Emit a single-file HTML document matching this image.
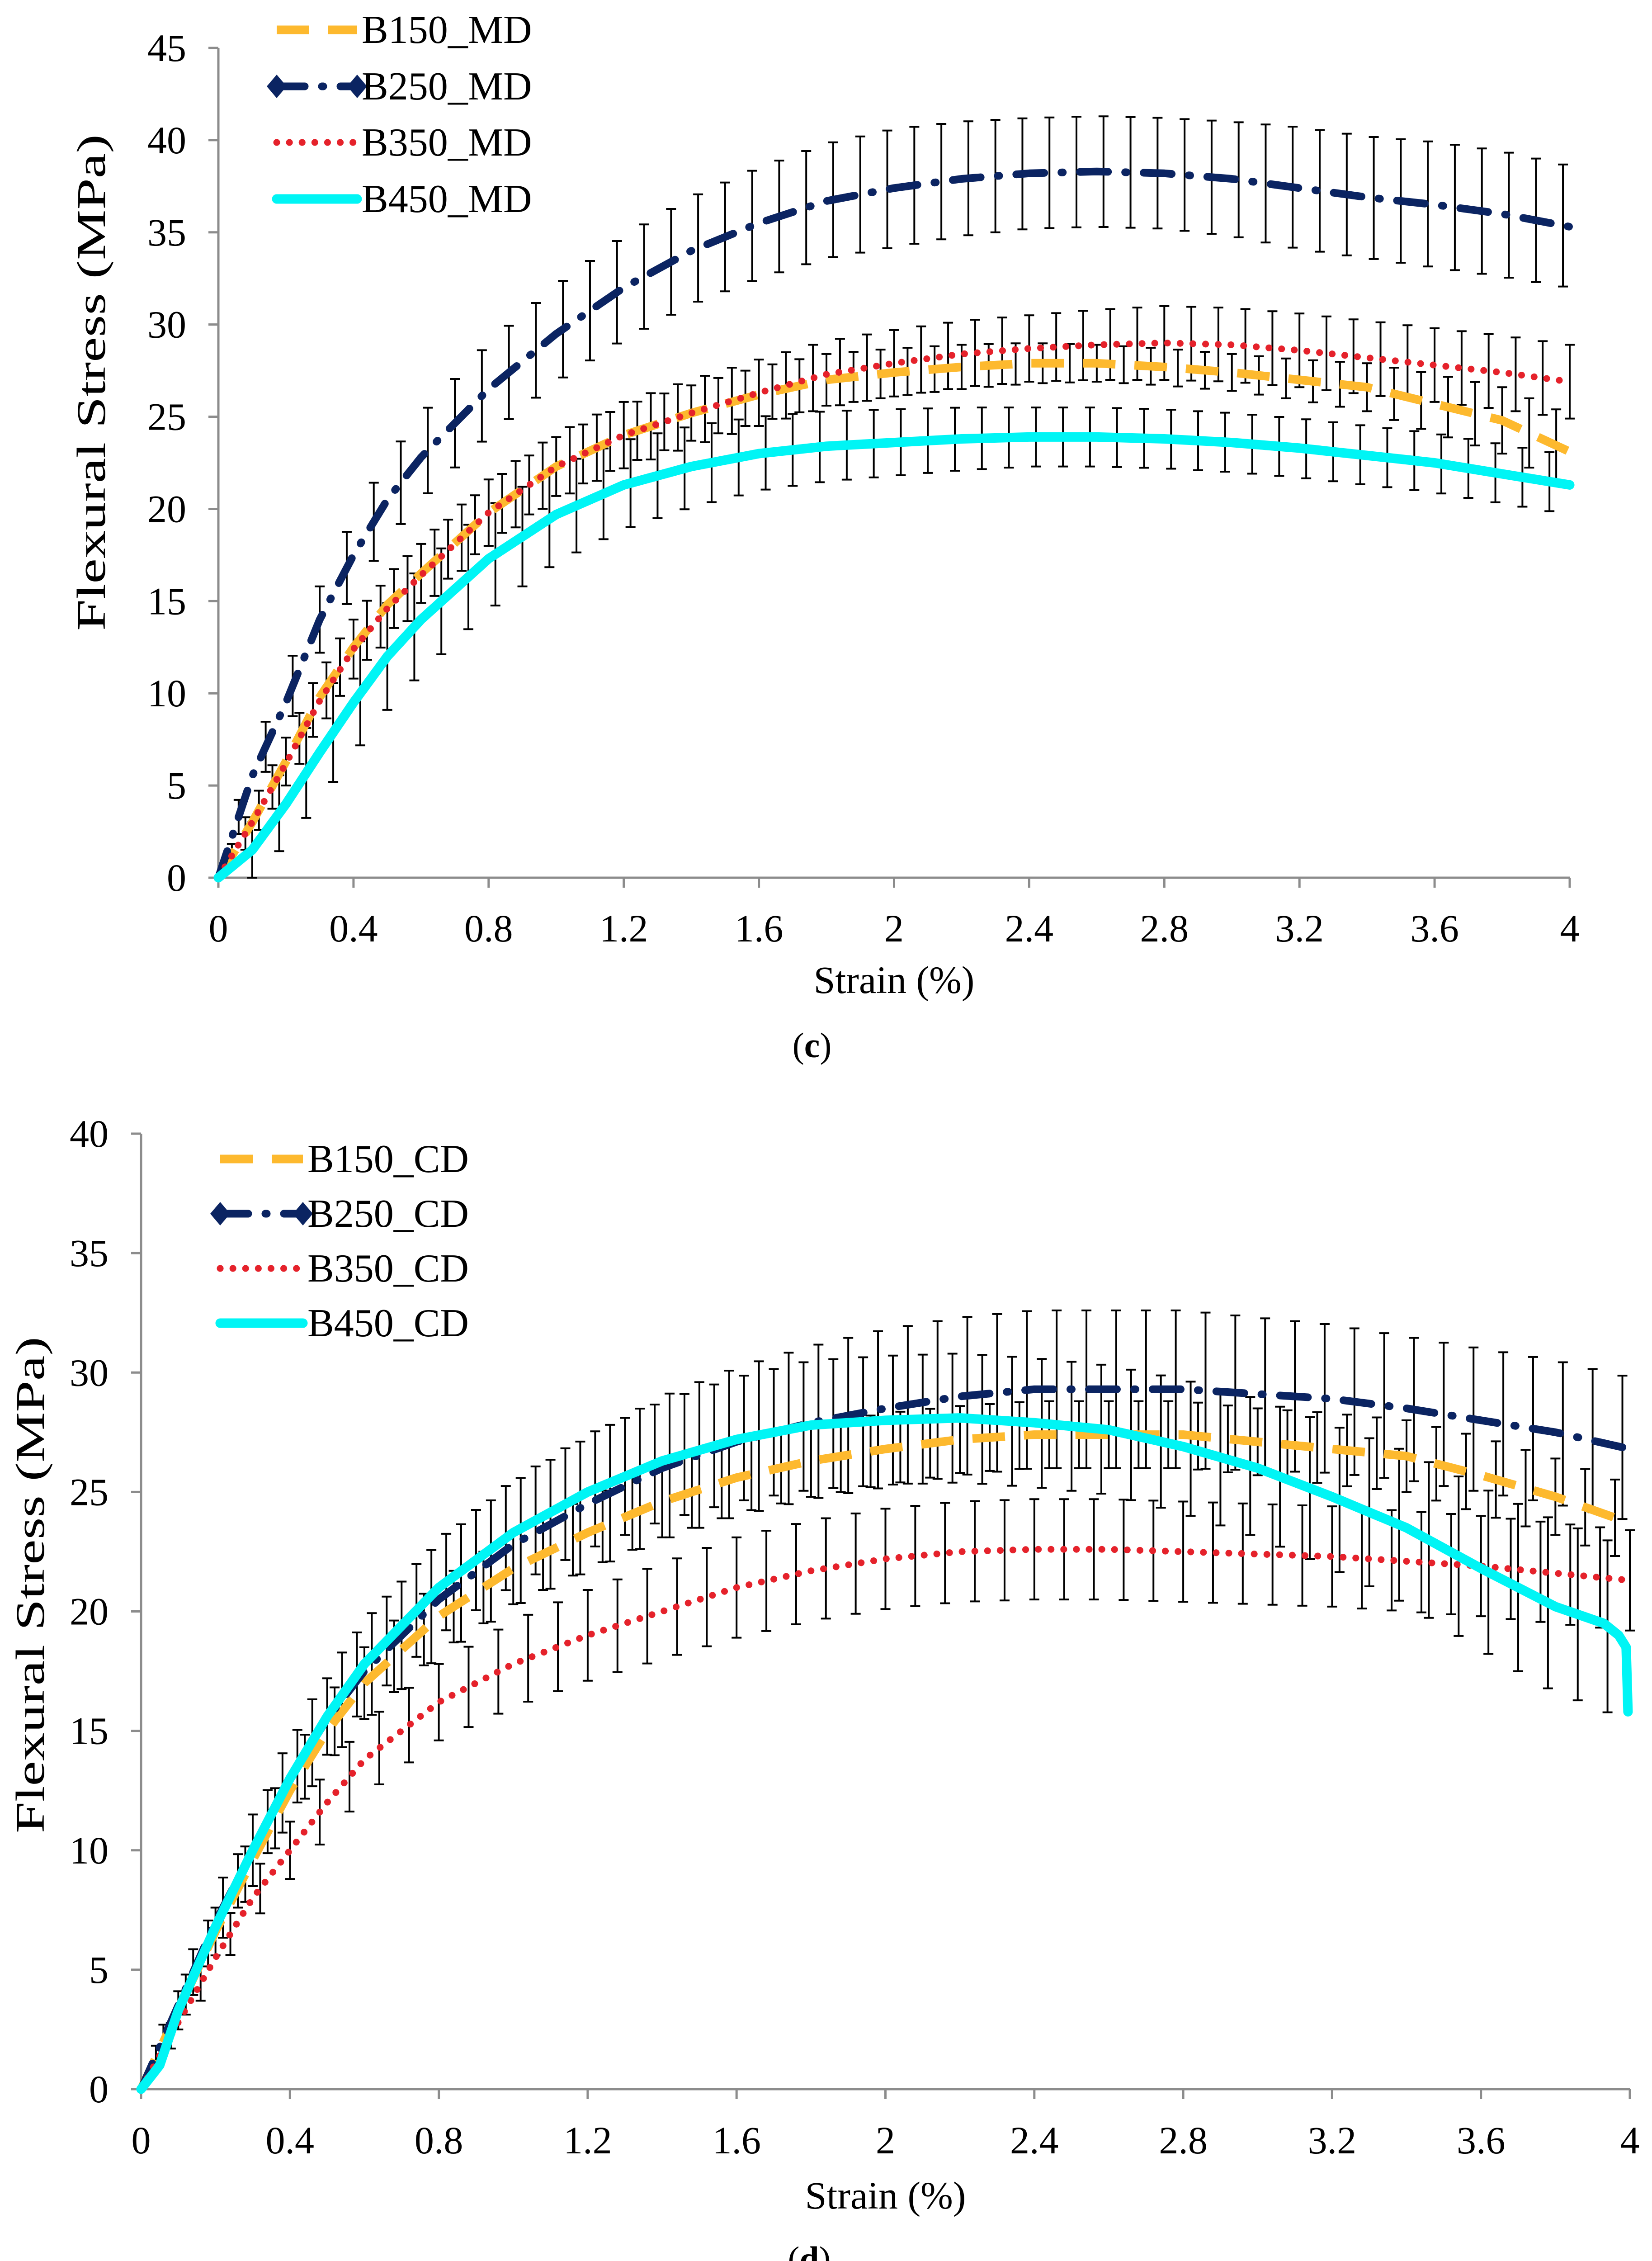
<!DOCTYPE html>
<html><head><meta charset="utf-8"><style>
html,body{margin:0;padding:0;background:#fff;overflow:hidden;width:3654px;height:5061px;}
svg{display:block;position:absolute;left:0;top:0;}
text{font-family:"Liberation Serif",serif;fill:#000;}
</style></head><body>
<svg id="fig" width="3654" height="5061" viewBox="0 0 3654 5061" xmlns="http://www.w3.org/2000/svg">
<rect width="3654" height="5061" fill="#fff"/>
</svg>
<script>
// ---------- Data: chart (c) MD ----------
const strainC = [0,0.1,0.2,0.3,0.4,0.5,0.6,0.8,1.0,1.2,1.4,1.6,1.8,2.0,2.2,2.4,2.6,2.8,3.0,3.2,3.4,3.6,3.8,4.0];
const b150MD = [0,3,6.3,9.8,12.5,14.8,16.5,19.8,22.3,24,25.2,26.2,27,27.4,27.7,27.9,27.9,27.7,27.4,27.0,26.6,25.7,24.8,23.1];
const b250MD = [0,5.5,9.5,14,17.5,20.5,22.8,26.5,29.5,32,34,35.5,36.7,37.4,37.9,38.2,38.3,38.2,37.9,37.4,36.9,36.5,36,35.3];
const b350MD = [0,3,6.2,9.6,12.4,14.6,16.4,19.8,22.3,24,25.2,26.3,27.3,27.9,28.4,28.7,28.9,29,28.9,28.6,28.2,27.8,27.4,26.9];
const b450MD = [0,1.5,4,6.8,9.5,12,14,17.3,19.7,21.3,22.3,23,23.4,23.6,23.8,23.9,23.9,23.8,23.6,23.3,22.9,22.5,21.9,21.3];
const errB150MD = [0.4,1,1.3,1.5,1.6,1.6,1.6,1.6,1.6,1.6,1.5,1.5,1.4,1.3,1.2,1.1,1.0,1.0,1.0,1.1,1.3,1.6,1.8,2.0];
const errB250MD = [0.5,1.2,1.6,1.8,2.0,2.2,2.3,2.5,2.6,2.8,2.9,3.0,3.1,3.2,3.1,3.0,3.0,3.0,3.1,3.3,3.3,3.4,3.4,3.3];
const errB350MD = [0.4,1,1.3,1.5,1.6,1.7,1.8,1.8,1.8,1.8,1.8,1.8,1.8,1.8,1.8,1.8,1.9,2.0,2.0,2.0,2.0,2.0,2.0,2.0];
const errB450MD = [0.5,1.5,2.2,2.6,2.8,2.9,2.9,2.8,2.6,2.4,2.2,2.0,1.9,1.8,1.7,1.6,1.6,1.6,1.6,1.6,1.6,1.6,1.6,1.6];
// ---------- Data: chart (d) CD ----------
const strainD = [0,0.1,0.2,0.3,0.4,0.5,0.6,0.8,1.0,1.2,1.4,1.6,1.8,2.0,2.2,2.4,2.6,2.8,3.0,3.2,3.4,3.6,3.8,4.0];
const b150CD = [0,3.3,6.6,9.6,12.5,15,17,19.8,21.8,23.3,24.6,25.6,26.3,26.8,27.2,27.4,27.4,27.4,27.1,26.8,26.5,25.7,24.8,23.7];
const b250CD = [0,3.5,7,10,13,15.5,17.5,20.5,22.8,24.5,26,27.1,27.9,28.5,29,29.3,29.3,29.3,29.1,28.9,28.5,28.0,27.5,26.8];
const b350CD = [0,2.8,5.5,8,10,12,13.8,16.2,17.8,19,20,21,21.7,22.2,22.5,22.6,22.6,22.5,22.4,22.3,22.1,21.9,21.6,21.3];
const strainB450CD = [0,0.05,0.1,0.2,0.3,0.4,0.5,0.6,0.8,1.0,1.2,1.4,1.6,1.8,2.0,2.2,2.4,2.6,2.8,3.0,3.2,3.4,3.6,3.8,3.93,3.97,3.99,3.995];
const b450CD = [0,1,3.3,6.8,10,13,15.6,17.8,21,23.3,25,26.3,27.2,27.8,28,28.1,27.9,27.6,26.9,26.0,24.8,23.5,21.8,20.2,19.5,19,18.5,15.8];
const errB150CD = [0.3,0.8,1.0,1.2,1.3,1.4,1.5,1.5,1.5,1.5,1.5,1.5,1.5,1.5,1.4,1.4,1.4,1.4,1.4,1.5,1.5,1.6,1.6,1.6];
const errB250CD = [0.3,0.8,1.2,1.5,1.7,1.9,2.1,2.4,2.6,2.8,3.0,3.1,3.2,3.3,3.3,3.3,3.3,3.3,3.2,3.1,3.0,3.0,3.0,3.0];
const errB350CD = [0.3,0.6,0.8,1.0,1.2,1.4,1.5,1.6,1.8,1.9,2.0,2.1,2.1,2.1,2.1,2.1,2.1,2.1,2.1,2.1,2.1,2.1,2.1,2.1];
const errB450CD = [0.3,0.8,1.0,1.2,1.5,1.6,1.8,2.0,2.2,2.4,2.5,2.6,2.7,2.7,2.7,2.7,2.7,2.8,2.9,3.0,3.2,3.4,3.6,3.6];
const xTicks = ["0","0.4","0.8","1.2","1.6","2","2.4","2.8","3.2","3.6","4"];
const yTicksC = ["0","5","10","15","20","25","30","35","40","45"];
const yTicksD = ["0","5","10","15","20","25","30","35","40"];
const legendC = ["B150_MD","B250_MD","B350_MD","B450_MD"];
const legendD = ["B150_CD","B250_CD","B350_CD","B450_CD"];

const NS="http://www.w3.org/2000/svg";
const svg=document.getElementById('fig');
function mk(tag,attrs,parent){const e=document.createElementNS(NS,tag);for(const k in attrs)e.setAttribute(k,attrs[k]);(parent||svg).appendChild(e);return e;}
function interp(xs,ys,x){for(let i=1;i<xs.length;i++){if(x<=xs[i]){const t=(x-xs[i-1])/(xs[i]-xs[i-1]);return ys[i-1]+t*(ys[i]-ys[i-1]);}}return ys[ys.length-1];}

const STY={
 orange:{stroke:"#FDB92E",w:19,dash:"72 42",cap:"butt"},
 navy:{stroke:"#0B2462",w:17,dash:"62 38 3 38",cap:"round"},
 red:{stroke:"#E5222B",w:15,dash:"0.1 28",cap:"round"},
 cyan:{stroke:"#00F5F5",w:21,dash:"",cap:"round"}
};

function chart(cfg){
 const g=mk('g',{});
 
 
 const X0=cfg.x0,X1=cfg.x1,Y0=cfg.y0,Y1=cfg.y1,ymax=cfg.ymax;
 const sx=v=>X0+v/4*(X1-X0);
 const sy=v=>Y0-v/ymax*(Y0-Y1);
 const ax=mk('g',{stroke:"#8c8c8c","stroke-width":5},g);
 
 
 mk('line',{x1:X0,y1:Y0,x2:X1,y2:Y0},ax);
 mk('line',{x1:X0,y1:Y0,x2:X0,y2:Y1},ax);
 xTicks.forEach((t)=>{const x=sx(parseFloat(t));mk('line',{x1:x,y1:Y0,x2:x,y2:Y0+22},ax);
  const tx=mk('text',{x:x,y:cfg.xLabY,"text-anchor":"middle","font-size":86},g);tx.textContent=t;
  
  });
 cfg.yTicks.forEach((t)=>{const y=sy(parseFloat(t));mk('line',{x1:X0-22,y1:y,x2:X0,y2:y},ax);
  const tx=mk('text',{x:cfg.yLabX,y:y+29,"text-anchor":"end","font-size":86},g);tx.textContent=t;
  
  });
 const xt=mk('text',{x:(X0+X1)/2,y:cfg.xTitleY,"text-anchor":"middle","font-size":86},g);xt.textContent="Strain (%)";
 
 
 const yt=mk('text',{x:0,y:0,"text-anchor":"middle","font-size":90,textLength:1098,lengthAdjust:"spacingAndGlyphs",transform:`translate(${cfg.yTitleX},${cfg.yTitleY}) rotate(-90)`},g);yt.textContent="Flexural Stress (MPa)";
 
 
 const pl=mk('text',{x:cfg.panelX,y:cfg.panelY,"text-anchor":"middle","font-size":78},g);
 pl.innerHTML='(<tspan font-weight="bold">'+cfg.panel+'</tspan>)';
 
 
 const eb=mk('g',{stroke:"#000","stroke-width":4},g);
 
 
 cfg.series.forEach(s=>{
  for(let x=0.04+s.off;x<=4.001;x+=0.08){
   const v=interp(s.xs,s.ys,x),e=interp(cfg.xsErr,s.err,x);
   const px=sx(x),a=sy(v+e),b=sy(v-e);
   mk('line',{x1:px,y1:a,x2:px,y2:b},eb);
   mk('line',{x1:px-11,y1:a,x2:px+11,y2:a},eb);
   mk('line',{x1:px-11,y1:b,x2:px+11,y2:b},eb);
  }
 });
 cfg.series.forEach(s=>{
  const st=STY[s.style];
  const d=s.xs.map((x,i)=>(i?'L':'M')+sx(x).toFixed(1)+' '+sy(s.ys[i]).toFixed(1)).join(' ');
  const p=mk('path',{d:d,fill:"none",stroke:st.stroke,"stroke-width":st.w,"stroke-dasharray":st.dash,"stroke-linecap":st.cap,"stroke-linejoin":"round"},g);
  
  
 });
 const lg=mk('g',{},g);
 
 
 cfg.series.forEach((s,i)=>{
  const st=STY[s.style];const y=cfg.legY[i];
  const e=mk('g',{},lg);
  
  
  mk('line',{x1:cfg.legX0,y1:y,x2:cfg.legX1,y2:y,stroke:st.stroke,"stroke-width":st.w,"stroke-dasharray":st.dash,"stroke-linecap":st.cap},e);
  if(s.style==='navy'){[cfg.legX0,cfg.legX1].forEach(x=>mk('path',{d:`M${x} ${y-26} L${x+22} ${y} L${x} ${y+26} L${x-22} ${y} Z`,fill:st.stroke},e));}
  const t=mk('text',{x:cfg.legX1+10,y:y+29,"font-size":88},e);t.textContent=s.label;
 });
}

chart({name:'chart-c-md',x0:483,x1:3472,y0:1941,y1:106,ymax:45,yTicks:yTicksC,
 xLabY:2082,yLabX:412,xTitleY:2196,yTitleX:232,yTitleY:846,panel:'c',panelX:1796,panelY:2338,
 legX0:612,legX1:790,legY:[66,191,315,440],xsErr:strainC,
 series:[
  {label:legendC[0],xs:strainC,ys:b150MD,err:errB150MD,style:'orange',off:0},
  {label:legendC[1],xs:strainC,ys:b250MD,err:errB250MD,style:'navy',off:0.02},
  {label:legendC[2],xs:strainC,ys:b350MD,err:errB350MD,style:'red',off:0.04},
  {label:legendC[3],xs:strainC,ys:b450MD,err:errB450MD,style:'cyan',off:0.06}
 ]});
chart({name:'chart-d-cd',x0:312,x1:3605,y0:4620,y1:2507,ymax:40,yTicks:yTicksD,
 xLabY:4762,yLabX:240,xTitleY:4884,yTitleX:97,yTitleY:3505,panel:'d',panelX:1790,panelY:5022,
 legX0:487,legX1:670,legY:[2563,2684,2805,2926],xsErr:strainD,
 series:[
  {label:legendD[0],xs:strainD,ys:b150CD,err:errB150CD,style:'orange',off:0},
  {label:legendD[1],xs:strainD,ys:b250CD,err:errB250CD,style:'navy',off:0.02},
  {label:legendD[2],xs:strainD,ys:b350CD,err:errB350CD,style:'red',off:0.04},
  {label:legendD[3],xs:strainB450CD,ys:b450CD,err:errB450CD,style:'cyan',off:0.06}
 ]});
</script>
</body></html>
